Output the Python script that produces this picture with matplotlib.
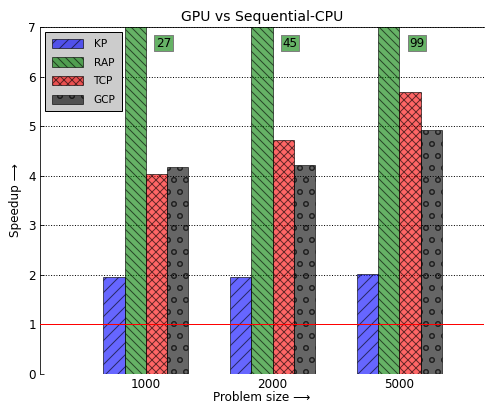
import numpy as np
import matplotlib
matplotlib.use("Agg")
import matplotlib.pyplot as plt

# Speedup of each GPU kernel over the sequential CPU version
sizes = ["1000", "2000", "5000"]
series = ["KP", "RAP", "TCP", "GCP"]
kp = [1.96, 1.96, 2.01]
rap = [27, 45, 99]
tcp = [4.04, 4.73, 5.68]
gcp = [4.17, 4.21, 4.93]

colors = ["b", "g", "r", "k"]
hatches = ["//", "\\\\\\", "xxx", "o"]

ymax = 7

fig = plt.figure(figsize=(485 / 72, 404 / 72), dpi=72)
ax = fig.add_axes([40 / 485, 30 / 404, 444 / 485, 347 / 404])

ind = np.arange(len(sizes))
width = 1 / 6.0
values = [kp, rap, tcp, gcp]
for i, (name, vals) in enumerate(zip(series, values)):
    ax.bar(ind + i * width, vals, width, align="edge", color=colors[i],
           edgecolor="k", alpha=0.6, hatch=hatches[i], linewidth=1,
           label=name, zorder=2)

# RAP bars run off the top of the plot; print their value next to them
for x, v in zip(ind, rap):
    ax.text(x + 2 * width + 0.14, ymax - 0.33, "%d" % v, ha="center",
            va="center", fontsize=12, zorder=5,
            bbox=dict(boxstyle="square,pad=0.12", facecolor="#66b266",
                      edgecolor="0.5", linewidth=1))

ax.axhline(1, color="r", linewidth=1, zorder=3)

ax.set_xlim(-0.5, 3.0)
ax.set_ylim(0, ymax)
ax.set_xticks(ind + 2 * width)
ax.set_xticklabels(sizes)
ax.set_yticks(range(0, ymax + 1))
ax.yaxis.grid(True, linestyle=":", color="k", linewidth=1, zorder=0)
ax.set_axisbelow(True)

ax.tick_params(axis="x", length=0, labelsize=12, pad=4)
ax.tick_params(axis="y", direction="in", length=4, labelsize=12, right=False,
               pad=4)
ax.spines["right"].set_visible(False)
ax.spines["bottom"].set_visible(False)

ax.set_title("GPU vs Sequential-CPU", fontsize=14)
ax.set_xlabel("Problem size \u27f6", fontsize=12, labelpad=0)
ax.set_ylabel("Speedup \u27f6", fontsize=12, labelpad=6)

leg = ax.legend(loc="upper left", fontsize=10.5, handlelength=3.0,
                handleheight=1.0, labelspacing=0.8, borderpad=0.6,
                handletextpad=1.0, fancybox=False, framealpha=1)
leg.get_frame().set_facecolor("0.8")
leg.get_frame().set_edgecolor("k")

fig.savefig("out.png", dpi=72)
